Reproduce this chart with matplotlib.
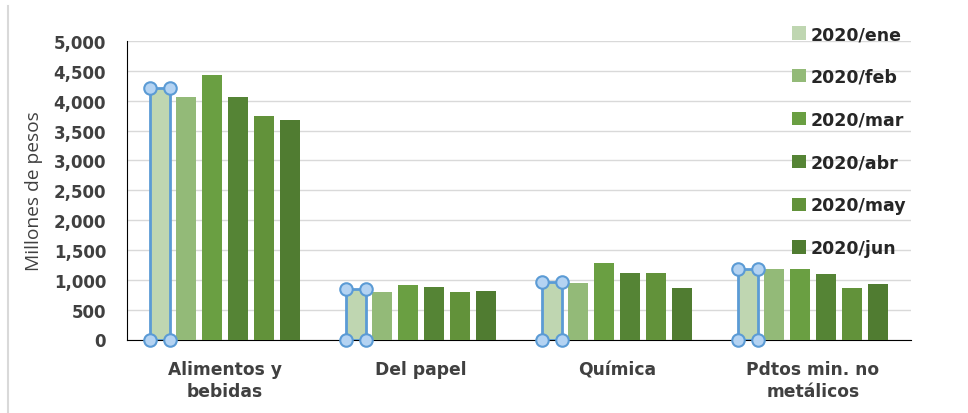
import matplotlib
matplotlib.use("Agg")
import matplotlib.pyplot as plt
import numpy as np
from matplotlib.lines import Line2D
from matplotlib.patches import Patch

# datos (millones de pesos)
categorias = ["Alimentos y\nbebidas", "Del papel", "Química", "Pdtos min. no\nmetálicos"]
meses = ["2020/ene", "2020/feb", "2020/mar", "2020/abr", "2020/may", "2020/jun"]
ene = [4210, 850, 970, 1180]
feb = [4066, 791, 953, 1186]
mar = [4435, 919, 1279, 1186]
abr = [4066, 885, 1117, 1090]
may = [3740, 791, 1117, 862]
jun = [3678, 819, 856, 929]
y_ticks = [0, 500, 1000, 1500, 2000, 2500, 3000, 3500, 4000, 4500, 5000]

COLORES = ["#bfd6b1", "#93ba78", "#6a9f42", "#558435", "#62923a", "#507c31"]
INK = "#404040"
GRID = "#d9d9d9"
SEL = "#5b9bd5"
BOLD_FONT = ["DejaVu Sans"]

plt.rcParams["font.family"] = ["Open Sans", "DejaVu Sans"]

fig = plt.figure(figsize=(9.68, 4.14), dpi=100)
ax = fig.add_axes([127 / 968, 1 - 340.5 / 414, (911 - 127) / 968, (340.5 - 42) / 414])

series = [ene, feb, mar, abr, may, jun]
x = np.arange(len(categorias))
step = 0.1327
width = 0.105
bar_groups = []
for i, (vals, mes) in enumerate(zip(series, meses)):
    bars = ax.bar(x + (i - 2.5) * step, vals, width, color=COLORES[i], label=mes, zorder=3)
    bar_groups.append(bars)

# seleccion de Excel sobre la serie "ene" (contorno azul con manijas)
for b in bar_groups[0]:
    b.set_edgecolor(SEL)
    b.set_linewidth(2)
    x0, y0, w, h = b.get_x(), b.get_y(), b.get_width(), b.get_height()
    ax.plot([x0, x0 + w, x0, x0 + w], [y0, y0, y0 + h, y0 + h], "o", ms=9,
            mfc="#b4d3f2", mec=SEL, mew=1.5, zorder=5, clip_on=False, ls="none")

ax.set_xlim(-0.5, 3.5)
ax.set_ylim(0, 5000)
ax.set_yticks(y_ticks)
ax.set_yticklabels([f"{v:,}" for v in y_ticks])
ax.set_xticks(x)
ax.set_xticklabels(categorias, linespacing=1.25)

ax.grid(axis="y", color=GRID, linewidth=1, zorder=0)
ax.set_axisbelow(True)
for s in ["top", "right"]:
    ax.spines[s].set_visible(False)
ax.spines["left"].set_color("black")
ax.spines["bottom"].set_color("black")
ax.tick_params(axis="both", length=0)
ax.tick_params(axis="y", pad=15, labelsize=12, labelcolor=INK)
ax.tick_params(axis="x", pad=15, labelsize=12.3, labelcolor=INK)
for lbl in ax.get_xticklabels() + ax.get_yticklabels():
    lbl.set_fontweight("bold")
    lbl.set_family(BOLD_FONT)

ax.set_ylabel("Millones de pesos", fontsize=13.8, color=INK, labelpad=8)

handles = [Patch(facecolor=c, edgecolor="none") for c in COLORES]
leg = ax.legend(handles, meses, loc="upper left", bbox_to_anchor=(792 / 968, 1 - 26 / 414),
                bbox_transform=fig.transFigure, frameon=False,
                prop={"family": BOLD_FONT, "weight": "bold", "size": 12.5},
                handlelength=0.8, handleheight=0.8, handletextpad=0.3,
                labelspacing=1.43, borderpad=0, borderaxespad=0)
for t in leg.get_texts():
    t.set_color("#262626")

# borde gris a la izquierda de la figura
fig.add_artist(Line2D([8 / 968, 8 / 968], [0, 1 - 7 / 414], transform=fig.transFigure,
                      color="#d9d9d9", linewidth=1.5))

fig.savefig("out.png", dpi=100, facecolor="white")
